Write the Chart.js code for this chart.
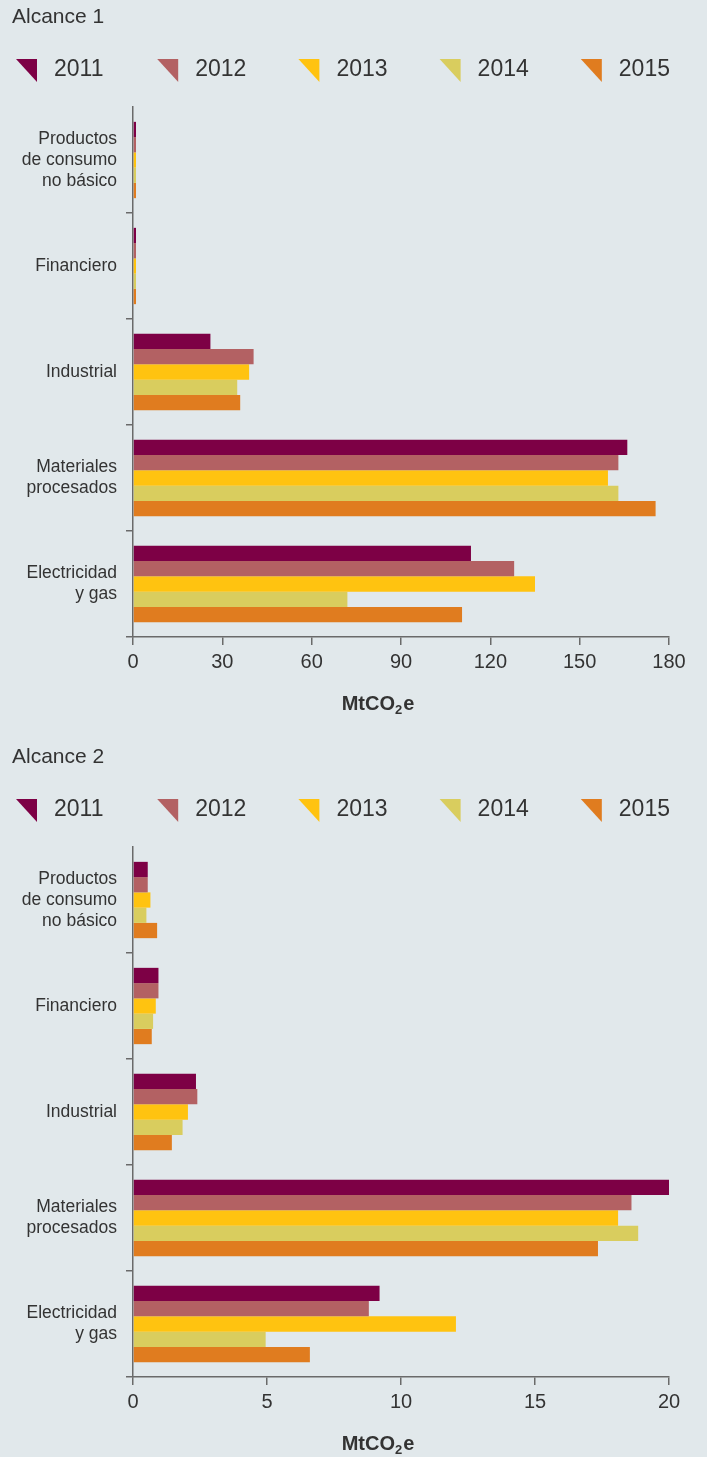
<!DOCTYPE html>
<html>
<head>
<meta charset="utf-8">
<script src="https://cdn.jsdelivr.net/npm/chart.js@4"></script>
<style>
  html, body { margin: 0; padding: 0; background: #e1e8eb; }
  canvas { display: block; }
</style>
</head>
<body>
<canvas id="c1" width="707" height="740"></canvas>
<canvas id="c2" width="707" height="717"></canvas>
<script>
// ---- Data ----
const categories = [['Productos', 'de consumo', 'no básico'], 'Financiero', 'Industrial', ['Materiales', 'procesados'], ['Electricidad', 'y gas']];
const years = ['2011', '2012', '2013', '2014', '2015'];
const yearColors = ['#7d0045', '#b36163', '#ffc310', '#d9cd5e', '#e07c1f'];

const alcance1_2011 = [1, 1, 26, 166, 113.5];
const alcance1_2012 = [1, 1, 40.5, 163, 128];
const alcance1_2013 = [1, 1, 39, 159.5, 135];
const alcance1_2014 = [1, 1, 35, 163, 72];
const alcance1_2015 = [1, 1, 36, 175.5, 110.5];

const alcance2_2011 = [0.55, 0.95, 2.35, 20, 9.2];
const alcance2_2012 = [0.55, 0.95, 2.4, 18.6, 8.8];
const alcance2_2013 = [0.65, 0.85, 2.05, 18.1, 12.05];
const alcance2_2014 = [0.5, 0.75, 1.85, 18.85, 4.95];
const alcance2_2015 = [0.9, 0.7, 1.45, 17.35, 6.6];

const xTicks1 = { max: 180, step: 30 };
const xTicks2 = { max: 20, step: 5 };

// ---- Styling ----
const FONT = '"Liberation Sans", Arial, Helvetica, sans-serif';
const TEXT = '#333333';
const AXIS = '#6a6a6a';

const headerPlugin = {
  id: 'header',
  afterDraw(chart, args, opts) {
    const ctx = chart.ctx;
    ctx.save();
    ctx.fillStyle = TEXT;
    ctx.textBaseline = 'middle';
    ctx.textAlign = 'left';
    ctx.font = '21px ' + FONT;
    ctx.fillText(opts.title, 12, 17);
    // legend
    ctx.font = '23px ' + FONT;
    chart.data.datasets.forEach((ds, i) => {
      const x0 = 16 + i * 141.2;
      const y0 = 59;
      ctx.fillStyle = ds.backgroundColor;
      ctx.beginPath();
      ctx.moveTo(x0, y0);
      ctx.lineTo(x0 + 21, y0);
      ctx.lineTo(x0 + 21, y0 + 23);
      ctx.closePath();
      ctx.fill();
      ctx.fillStyle = TEXT;
      ctx.fillText(ds.label, x0 + 38, y0 + 11);
    });
    // axis title MtCO2e
    const cx = 378;
    const cy = opts.axisTitleY;
    ctx.font = 'bold 20px ' + FONT;
    const a = 'MtCO', b = '2', c = 'e';
    const wa = ctx.measureText(a).width;
    const wc = ctx.measureText(c).width;
    ctx.font = 'bold 13px ' + FONT;
    const wb = ctx.measureText(b).width;
    const total = wa + wb + wc + 1;
    let x = cx - total / 2;
    ctx.textBaseline = 'alphabetic';
    ctx.font = 'bold 20px ' + FONT;
    ctx.fillText(a, x, cy + 7);
    x += wa;
    ctx.font = 'bold 13px ' + FONT;
    ctx.fillText(b, x, cy + 11);
    x += wb + 1;
    ctx.font = 'bold 20px ' + FONT;
    ctx.fillText(c, x, cy + 7);
    ctx.restore();
  }
};

function makeChart(id, title, seriesList, ticks, bottomHeight) {
  return new Chart(document.getElementById(id), {
    type: 'bar',
    data: {
      labels: categories,
      datasets: years.map((y, i) => ({
        label: y,
        data: seriesList[i],
        backgroundColor: yearColors[i],
        borderWidth: 0,
        barPercentage: 1,
        categoryPercentage: 0.72
      }))
    },
    options: {
      indexAxis: 'y',
      responsive: false,
      animation: false,
      devicePixelRatio: 1,
      layout: { padding: { top: 107, right: 38, left: 0, bottom: 0 } },
      plugins: {
        legend: { display: false },
        tooltip: { enabled: false },
        header: { title: title, axisTitleY: 703 }
      },
      scales: {
        x: {
          min: 0,
          max: ticks.max,
          ticks: { stepSize: ticks.step, color: TEXT, font: { family: FONT, size: 20 }, padding: 5 },
          grid: { drawOnChartArea: false, drawTicks: true, tickLength: 8, color: AXIS, lineWidth: 1.5 },
          border: { display: true, color: AXIS, width: 1.5 },
          afterFit(scale) { scale.height = bottomHeight; }
        },
        y: {
          ticks: { color: TEXT, font: { family: FONT, size: 17.5, lineHeight: 1.2 }, padding: 9 },
          grid: {
            offset: true, drawOnChartArea: false, drawTicks: true, tickLength: 7,
            color: (c) => (c.index === 0 ? 'rgba(0,0,0,0)' : AXIS), lineWidth: 1.5
          },
          border: { display: true, color: AXIS, width: 1.5 },
          afterFit(scale) { scale.width = 133; }
        }
      }
    },
    plugins: [headerPlugin]
  });
}

makeChart('c1', 'Alcance 1',
  [alcance1_2011, alcance1_2012, alcance1_2013, alcance1_2014, alcance1_2015],
  xTicks1, 103);
makeChart('c2', 'Alcance 2',
  [alcance2_2011, alcance2_2012, alcance2_2013, alcance2_2014, alcance2_2015],
  xTicks2, 80);
</script>
</body>
</html>
